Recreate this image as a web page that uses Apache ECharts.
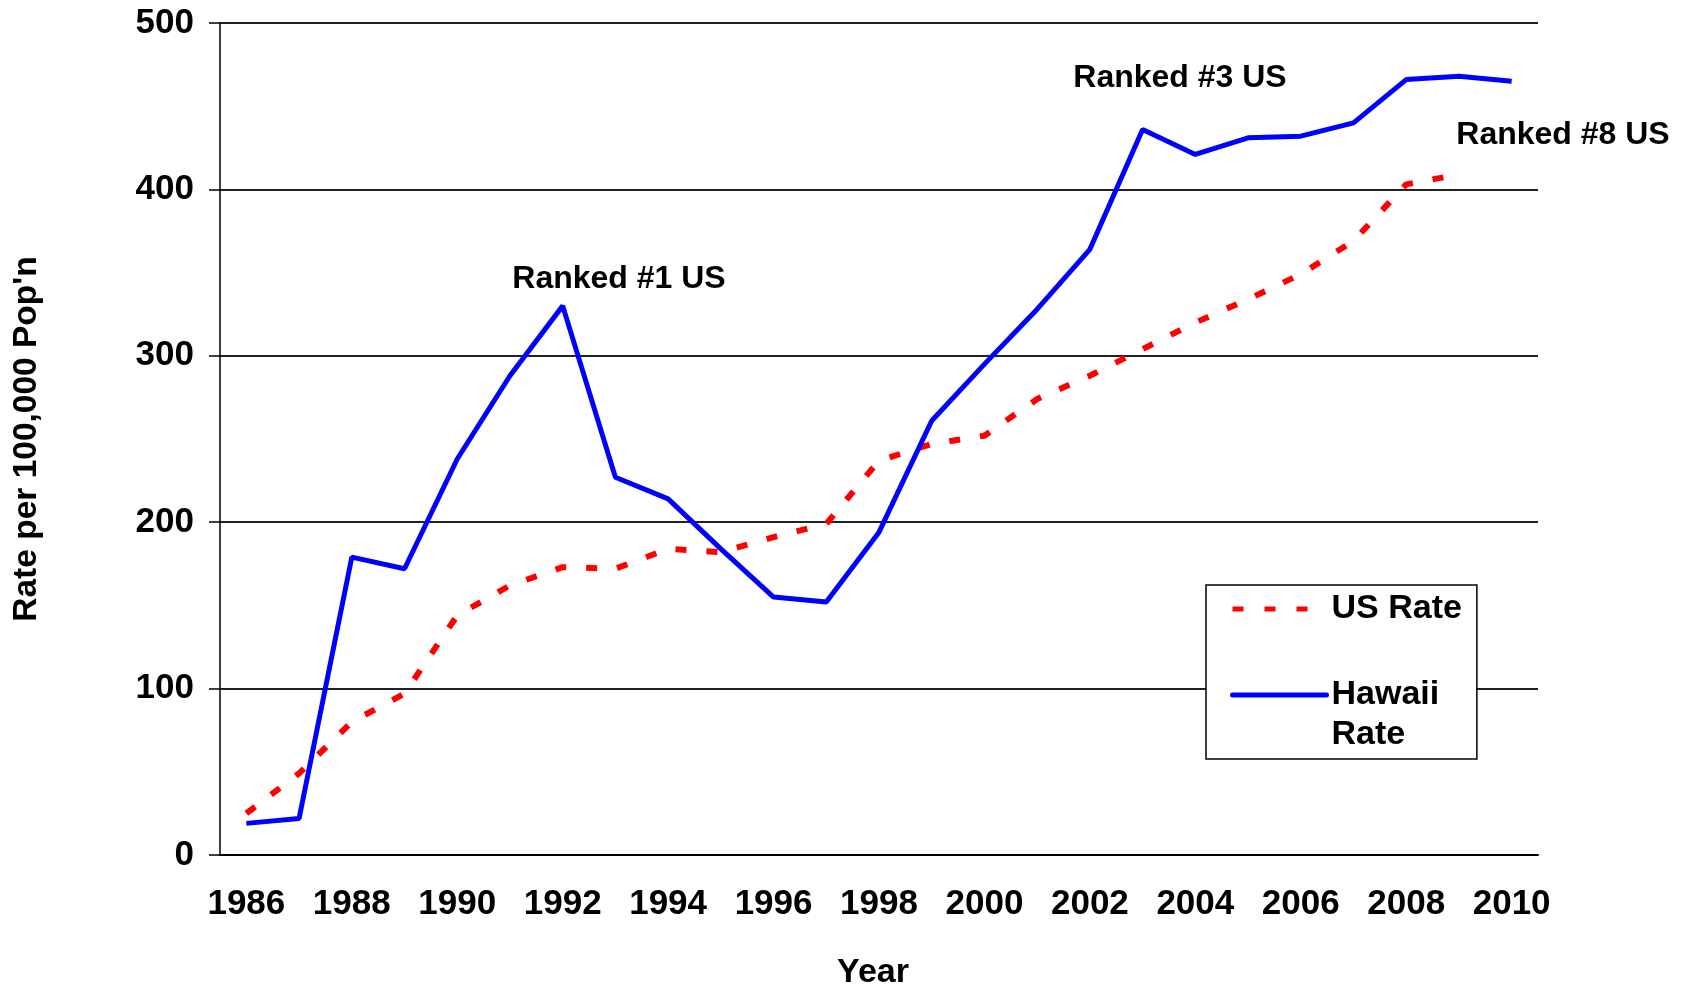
<!DOCTYPE html>
<html>
<head>
<meta charset="utf-8">
<script src="https://cdn.jsdelivr.net/npm/echarts@6/dist/echarts.min.js"></script>
<style>
html, body { margin: 0; padding: 0; background: #fff; }
#main { width: 1689px; height: 989px; }
</style>
</head>
<body>
<div id="main"></div>
<script>
var years = ['1986', '1987', '1988', '1989', '1990', '1991', '1992', '1993', '1994', '1995',
             '1996', '1997', '1998', '1999', '2000', '2001', '2002', '2003', '2004', '2005',
             '2006', '2007', '2008', '2009', '2010'];
var hawaiiRate = [19, 22, 179, 172, 238, 288, 330, 227, 214, 184,
                  155, 152, 194, 261, 295, 328, 364, 436, 421, 431,
                  432, 440, 466, 468, 465];
var usRate = [25, 49, 80, 97, 144, 162, 173, 172, 184, 182,
              191, 199, 237, 247, 252, 274, 288, 304, 320, 334,
              349, 369, 403, 409, null];
var yTicks = { min: 0, max: 500, step: 100 };

var FONT = "'Liberation Sans', Arial, sans-serif";

var myChart = echarts.init(document.getElementById('main'));

var option = {
    animation: false,
    backgroundColor: '#fff',
    grid: { left: 220, right: 151, top: 23, bottom: 134, outerBoundsMode: 'none', containLabel: false },
    xAxis: {
        type: 'category',
        data: years,
        boundaryGap: true,
        name: 'Year',
        nameLocation: 'middle',
        nameGap: 101,
        nameTextStyle: { fontFamily: FONT, fontWeight: 'bold', fontSize: 34, color: '#000', padding: [0, 12, 0, 0] },
        axisLine: { lineStyle: { color: '#000', width: 2 } },
        axisTick: { interval: 0, length: 10, lineStyle: { color: '#000', width: 2 } },
        axisLabel: { interval: 1, margin: 32, fontFamily: FONT, fontWeight: 'bold', fontSize: 35, color: '#000' },
        splitLine: { show: false }
    },
    yAxis: {
        type: 'value',
        min: yTicks.min,
        max: yTicks.max,
        interval: yTicks.step,
        name: "Rate per 100,000 Pop'n",
        nameLocation: 'middle',
        nameGap: 176,
        nameTextStyle: { fontFamily: FONT, fontWeight: 'bold', fontSize: 33.5, color: '#000' },
        axisLine: { show: true, lineStyle: { color: '#000', width: 1.5 } },
        axisTick: { show: true, length: 11, lineStyle: { color: '#000', width: 1.5 } },
        axisLabel: { margin: 26, fontFamily: FONT, fontWeight: 'bold', fontSize: 35, color: '#000' },
        splitLine: { lineStyle: { color: '#222', width: 2 } }
    },
    legend: {
        orient: 'vertical',
        left: 1206,
        top: 585,
        padding: [4, 15, 4, 24],
        itemWidth: 94,
        itemHeight: 6,
        itemGap: 6,
        borderColor: '#000',
        borderWidth: 1.5,
        borderRadius: 0,
        backgroundColor: '#fff',
        itemStyle: { opacity: 0 },
        textStyle: { fontFamily: FONT, fontWeight: 'bold', fontSize: 34, lineHeight: 40, color: '#000' },
        formatter: function (name) {
            return name === 'Hawaii Rate' ? '\nHawaii\nRate' : name;
        },
        data: [
            { name: 'US Rate', lineStyle: { color: '#ff0000', width: 5, type: [11, 21], cap: 'butt' } },
            { name: 'Hawaii Rate', lineStyle: { color: '#0000ff', width: 5, type: 'solid', cap: 'round' } }
        ]
    },
    graphic: [
        { type: 'text', x: 619, y: 279, style: { text: 'Ranked #1 US', align: 'center', verticalAlign: 'middle', fontFamily: FONT, fontWeight: 'bold', fontSize: 32, fill: '#000' } },
        { type: 'text', x: 1180, y: 78, style: { text: 'Ranked #3 US', align: 'center', verticalAlign: 'middle', fontFamily: FONT, fontWeight: 'bold', fontSize: 32, fill: '#000' } },
        { type: 'text', x: 1563, y: 135, style: { text: 'Ranked #8 US', align: 'center', verticalAlign: 'middle', fontFamily: FONT, fontWeight: 'bold', fontSize: 32, fill: '#000' } }
    ],
    series: [{
        name: 'US Rate',
        type: 'line',
        data: usRate,
        symbol: 'none',
        color: '#ff0000',
        lineStyle: { color: '#ff0000', width: 6, type: [11, 20], cap: 'butt' }
    }, {
        name: 'Hawaii Rate',
        type: 'line',
        data: hawaiiRate,
        symbol: 'none',
        color: '#0000ff',
        lineStyle: { color: '#0000ff', width: 5 }
    }]
};

myChart.setOption(option);
</script>
</body>
</html>
